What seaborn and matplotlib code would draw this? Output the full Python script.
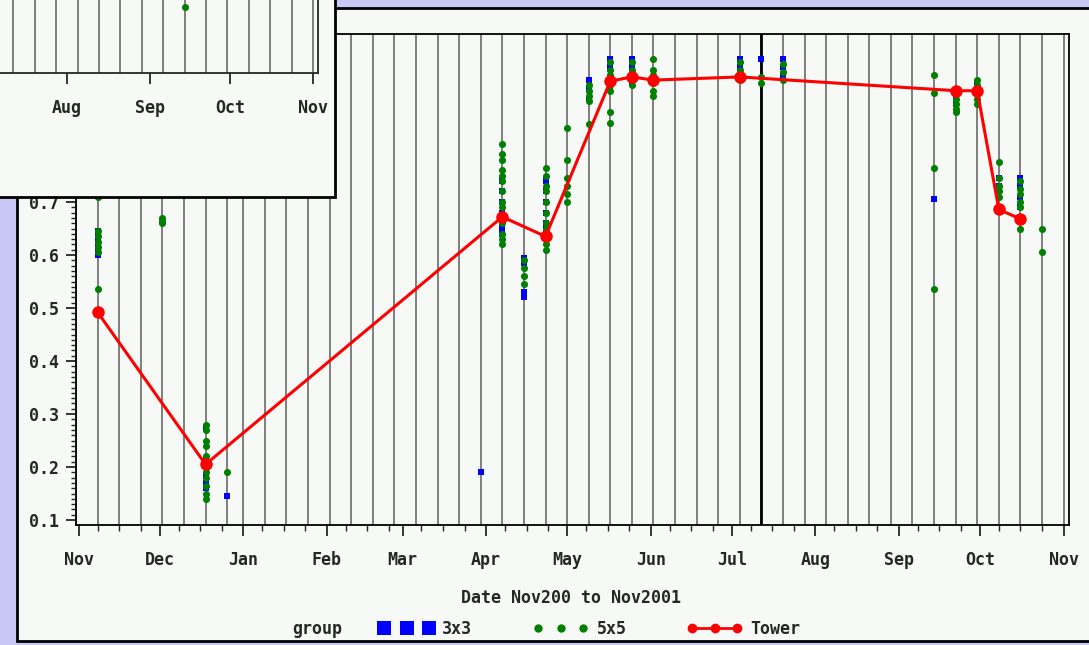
"""Tower vs 3x3 / 5x5 pixel windows, Nov 2000 - Nov 2001"""

import pandas as pd
import matplotlib
matplotlib.use('Agg')
import matplotlib.pyplot as plt
import matplotlib.dates as mdates
from matplotlib.patches import Rectangle
from matplotlib.lines import Line2D
from matplotlib.ticker import MultipleLocator
import seaborn as sns

# values, one list per composite date
obs_3x3 = {
    '2000-11-08': [0.600, 0.610, 0.620, 0.630, 0.640, 0.645],
    '2000-12-18': [0.275, 0.215, 0.185, 0.170, 0.160],
    '2000-12-26': [0.145],
    '2001-03-30': [0.190],
    '2001-04-07': [0.740, 0.720, 0.700, 0.680, 0.660, 0.650, 0.640],
    '2001-04-15': [0.595, 0.585, 0.530, 0.520],
    '2001-04-23': [0.740, 0.720, 0.700, 0.680, 0.660, 0.650],
    '2001-05-09': [0.930, 0.915, 0.895],
    '2001-05-17': [0.970, 0.955, 0.935, 0.915],
    '2001-05-25': [0.970, 0.955, 0.940, 0.925],
    '2001-07-04': [0.970, 0.955],
    '2001-07-12': [0.970],
    '2001-07-20': [0.970, 0.955, 0.940],
    '2001-09-14': [0.705],
    '2001-09-22': [0.900, 0.885],
    '2001-09-30': [0.925],
    '2001-10-08': [0.745, 0.730],
    '2001-10-16': [0.745, 0.730, 0.710, 0.690],
}

obs_5x5 = {
    '2000-11-08': [0.710, 0.645, 0.635, 0.625, 0.615, 0.605, 0.535],
    '2000-12-02': [0.670, 0.665, 0.660],
    '2000-12-18': [0.280, 0.270, 0.250, 0.240, 0.220, 0.200, 0.190, 0.180, 0.165, 0.150, 0.140],
    '2000-12-26': [0.190],
    '2001-04-07': [0.810, 0.790, 0.780, 0.760, 0.750, 0.740, 0.720, 0.700, 0.690, 0.670,
                   0.660, 0.640, 0.630, 0.620],
    '2001-04-15': [0.590, 0.575, 0.560, 0.545],
    '2001-04-23': [0.765, 0.750, 0.730, 0.720, 0.700, 0.680, 0.660, 0.650, 0.630, 0.620, 0.610],
    '2001-05-01': [0.840, 0.780, 0.745, 0.730, 0.715, 0.700],
    '2001-05-09': [0.920, 0.910, 0.900, 0.890, 0.847],
    '2001-05-17': [0.965, 0.950, 0.940, 0.920, 0.910, 0.870, 0.850],
    '2001-05-25': [0.965, 0.950, 0.935, 0.920],
    '2001-06-02': [0.970, 0.950, 0.940, 0.925, 0.910, 0.900],
    '2001-07-04': [0.965, 0.950, 0.935, 0.930],
    '2001-07-12': [0.935, 0.925],
    '2001-07-20': [0.960, 0.945, 0.930],
    '2001-09-14': [0.940, 0.905, 0.765, 0.535],
    '2001-09-22': [0.895, 0.885, 0.875, 0.870],
    '2001-09-30': [0.930, 0.920, 0.905, 0.895, 0.885],
    '2001-10-08': [0.775, 0.745, 0.730, 0.720, 0.710],
    '2001-10-16': [0.740, 0.725, 0.715, 0.700, 0.690, 0.650],
    '2001-10-24': [0.650, 0.605],
}

tower_dates = ['2000-11-08', '2000-12-18', '2001-04-07', '2001-04-23', '2001-05-17', '2001-05-25',
               '2001-06-02', '2001-07-04', '2001-09-22', '2001-09-30', '2001-10-08', '2001-10-16']
tower_values = [0.492, 0.205, 0.672, 0.635, 0.928, 0.936, 0.930, 0.936, 0.910, 0.910, 0.686, 0.668]

# the partly hidden window behind, top left
ov_dates = ['2001-09-14']
ov_5x5 = [0.218]

W, H = 1089, 645
BG = '#f6f9f6'
LAVENDER = '#c8c8f6'


def fx(px):
    return px / W


def fy(py):
    return 1 - py / H


def to_frame(obs):
    rows = [(pd.Timestamp(d), v) for d, vals in obs.items() for v in vals]
    return pd.DataFrame(rows, columns=['date', 'value'])


def composite_dates(start, end):
    # 8-day composite dates, restarting each Jan 1
    out = []
    for year in range(pd.Timestamp(start).year, pd.Timestamp(end).year + 1):
        for d in pd.date_range(f'{year}-01-01', f'{year}-12-31', freq='8D'):
            if pd.Timestamp(start) <= d <= pd.Timestamp(end):
                out.append(d)
    return out


def style_date_axis(ax, minor=True):
    ax.xaxis.set_major_locator(mdates.MonthLocator())
    ax.xaxis.set_major_formatter(mdates.DateFormatter('%b'))
    if minor:
        ax.xaxis.set_minor_locator(mdates.DayLocator(bymonthday=[8, 16, 24]))
    ax.tick_params(axis='x', which='major', direction='out', length=8, width=1.3, pad=11,
                   labelsize=12)
    ax.tick_params(axis='x', which='minor', direction='out', length=4, width=1.0)
    ax.set_xlabel('')
    ax.set_ylabel('')


def y_label(v, pos):
    # labels above 0.7 sit behind the other window anyway
    return f'{v:.1f}' if v < 0.75 else ''


def main():
    sns.set_style('ticks')
    plt.rcParams['font.family'] = ['DejaVu Sans Mono']
    plt.rcParams['font.weight'] = 'bold'

    df3 = to_frame(obs_3x3)
    df5 = to_frame(obs_5x5)
    tower = pd.DataFrame({'date': pd.to_datetime(tower_dates), 'value': tower_values})
    ov = pd.DataFrame({'date': pd.to_datetime(ov_dates), 'value': ov_5x5})

    fig = plt.figure(figsize=(W / 100, H / 100), dpi=100, facecolor=LAVENDER)

    # main window
    fig.add_artist(Rectangle((fx(17), fy(641)), fx(1120) - fx(17), fy(8) - fy(641),
                             transform=fig.transFigure, facecolor=BG, edgecolor='black',
                             lw=2, zorder=0))

    ax = fig.add_axes([fx(76), fy(525), fx(1069) - fx(76), fy(34) - fy(525)])
    ax.set_zorder(1)
    ax.set_facecolor(BG)

    for d in composite_dates('2000-10-31', '2001-11-01'):
        ax.axvline(d, color='#6a6a6a', lw=1.2, zorder=1)
    ax.axvline(pd.Timestamp('2001-07-12'), color='black', lw=2, zorder=1)

    sns.scatterplot(data=df3, x='date', y='value', marker='s', color='#0000ff', s=24,
                    linewidth=0, ax=ax, zorder=3, legend=False)
    sns.scatterplot(data=df5, x='date', y='value', marker='o', color='#008000', s=26,
                    linewidth=0, ax=ax, zorder=4, legend=False)
    sns.lineplot(data=tower, x='date', y='value', color='#ff0000', lw=2.2, marker='o',
                 markersize=9, markeredgewidth=0, ax=ax, zorder=5, legend=False)

    ax.set_xlim(pd.Timestamp('2000-10-31'), pd.Timestamp('2001-11-03'))
    ax.set_ylim(0.0906, 1.017)
    ax.yaxis.set_major_locator(MultipleLocator(0.1))
    ax.yaxis.set_minor_locator(MultipleLocator(0.01))
    ax.yaxis.set_major_formatter(y_label)
    ax.tick_params(axis='y', which='major', direction='out', length=7, width=1.3, pad=5,
                   labelsize=12)
    ax.tick_params(axis='y', which='minor', direction='out', length=3.5, width=1.0)
    style_date_axis(ax)
    for sp in ax.spines.values():
        sp.set_color('black')
        sp.set_linewidth(1.3)

    fig.text(fx(571), fy(598), 'Date Nov200 to Nov2001', ha='center', va='center', fontsize=12)

    # legend row
    fig.text(fx(292), fy(629), 'group', ha='left', va='center', fontsize=12)
    handles = [
        Line2D([], [], marker='s', color='#0000ff', ls='none', markersize=10, markeredgewidth=0),
        Line2D([], [], marker='o', color='#008000', ls='none', markersize=6, markeredgewidth=0),
        Line2D([], [], marker='o', color='#ff0000', ls='-', lw=2, markersize=7, markeredgewidth=0),
    ]
    fig.legend(handles, ['3x3', '5x5', 'Tower'], loc='center left',
               bbox_to_anchor=(fx(379), fy(629)), ncol=3, frameon=False, numpoints=3,
               handlelength=3.3, handletextpad=0.5, columnspacing=3.65, fontsize=12,
               borderpad=0, borderaxespad=0)

    # overlapping window in the top left corner
    fig.add_artist(Rectangle((fx(-10), fy(197)), fx(335) - fx(-10), fy(-10) - fy(197),
                             transform=fig.transFigure, facecolor=BG, edgecolor='black',
                             lw=2, zorder=10))
    ov_ax = fig.add_axes([0, fy(73), fx(318), 73 / H])
    ov_ax.set_zorder(11)
    ov_ax.set_facecolor(BG)
    for d in composite_dates('2001-07-01', '2001-11-01'):
        ov_ax.axvline(d, color='#6a6a6a', lw=1.2, zorder=1)
    sns.scatterplot(data=ov, x='date', y='value', marker='o', color='#008000', s=26,
                    linewidth=0, ax=ov_ax, zorder=4, legend=False)
    ov_ax.set_xlim(pd.Timestamp('2001-07-06 23:00'), pd.Timestamp('2001-11-02 21:00'))
    ov_ax.set_ylim(0.093, 0.093 + 73 / 530)
    style_date_axis(ov_ax, minor=False)
    ov_ax.set_yticks([])
    ov_ax.spines['top'].set_visible(False)
    ov_ax.spines['left'].set_visible(False)
    ov_ax.spines['right'].set_linewidth(1.3)
    ov_ax.spines['bottom'].set_linewidth(1.3)

    fig.savefig('out.png', dpi=100, facecolor=LAVENDER)


if __name__ == "__main__":
    main()
